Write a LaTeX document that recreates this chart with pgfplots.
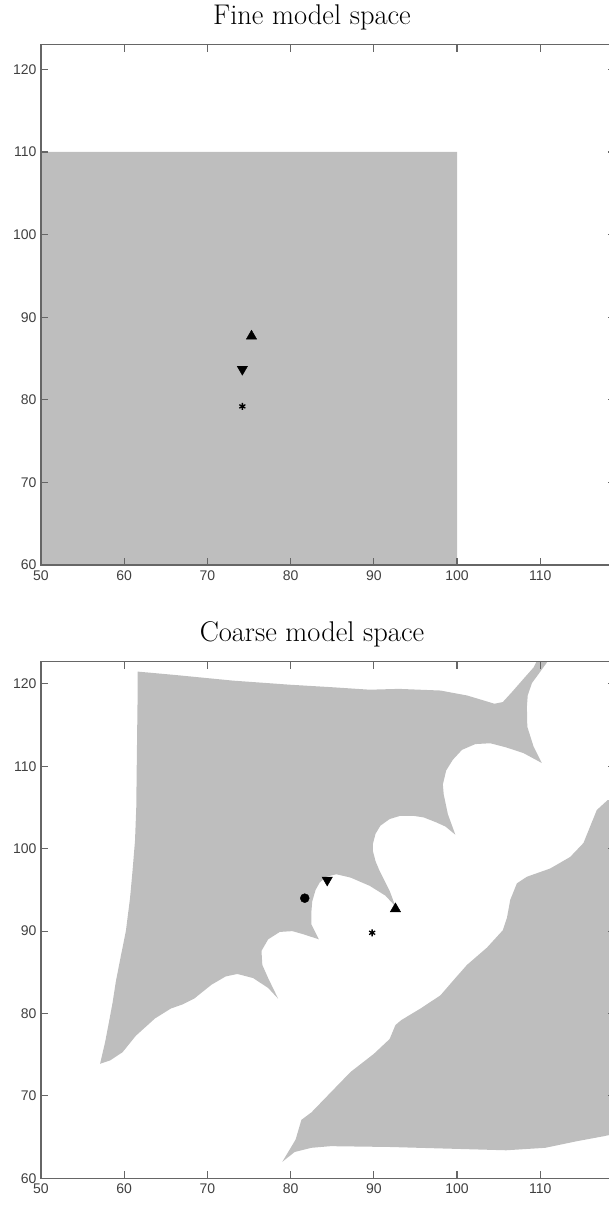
\documentclass[border=0pt]{standalone}
\usepackage{pgfplots}
\pgfplotsset{compat=1.18}
\usepackage{fontspec}
\newfontfamily\ticksans{Liberation Sans}
\definecolor{regiongray}{RGB}{190,190,190}
\pgfplotsset{mystyle/.style={
  scale only axis, width=574.1pt, xmin=50, xmax=119, ymin=60,
  anchor=south west,
  xtick={50,60,...,110}, ytick={60,70,...,120},
  tick align=inside, major tick length=7pt,
  axis line style={black!60, line width=1.1pt},
  tick style={black!60, line width=1.1pt},
  tick label style={font=\ticksans\fontsize{14}{14}\selectfont, text=black!75},
  /pgf/number format/assume math mode=true,
  xticklabel style={yshift=-2pt},
  yticklabel style={xshift=-1pt},
  title style={font=\fontsize{28.5}{30}\selectfont, at={(0.472,1)}, anchor=base, yshift=14.3pt},
  axis on top,
}}
\begin{document}
\begin{tikzpicture}
\begin{axis}[mystyle, at={(41pt,640pt)}, height=520.4pt, ymax=123, title={Fine model space}]
\addplot[fill=regiongray, draw=none] coordinates {(50,60)(100,60)(100,110)(50,110)(50,60)};
\addplot[only marks, mark=triangle*, mark size=6pt, black] coordinates {(75.3,87.7)};
\addplot[only marks, mark=triangle*, mark size=6pt, black, every mark/.append style={rotate=180}] coordinates {(74.2,83.7)};
\addplot[only marks, mark=asterisk, mark size=3.5pt, black, line width=1.3pt] coordinates {(74.2,79.2)};
\end{axis}
\begin{axis}[mystyle, at={(41pt,26.7pt)}, height=516.6pt, ymax=122.7, title={Coarse model space}]
\addplot[fill=regiongray, draw=none] coordinates {
(61.6,121.5)(66,121.1)(73.1,120.4)(80,119.9)(85,119.6)(89.5,119.3)(93,119.4)(98.0,119.2)(101.2,118.6)(104.5,117.6)
(105.5,117.8)(106.5,118.9)(107.8,120.4)(109.2,122.0)(109.8,123.2)(111.2,123.2)(110.8,122.6)(109.8,121.2)(109.0,120.1)
(108.5,118.6)(108.4,117.2)(108.45,114.8)(109.2,112.4)(110.2,110.4)
(108,111.6)(105.9,112.3)(104,112.8)(102.2,112.7)(100.6,112.0)(99.5,110.8)(98.7,109.5)(98.3,107.8)(98.4,106.6)(98.9,104.2)(99.8,101.7)
(98.6,102.7)(97.5,103.2)(96,103.8)(94.7,104.0)(93.2,104.0)(91.9,103.6)(90.8,102.8)(90.2,101.8)(89.9,100.6)(89.9,99.7)(90.2,98.5)(90.7,97.3)(91.9,94.9)(92.6,93.0)
(91.4,94.3)(89.5,95.5)(87.2,96.5)(85.5,96.9)(84.3,96.6)(83.5,95.9)(83.0,95.0)(82.6,93.6)(82.5,92.4)(82.5,90.8)(83.4,89.0)
(81.6,89.6)(80.2,90.0)(78.7,89.9)(77.3,89.0)(76.5,87.6)(76.6,85.9)(77.3,84.3)(78.5,81.8)
(77.3,83.1)(75.5,84.3)(73.6,84.8)(72.2,84.5)(70.5,83.5)(68.4,81.8)(67.0,81.1)(65.6,80.6)(63.7,79.4)(61.4,77.3)(59.8,75.3)(58.3,74.3)(57.1,73.9)
(57.7,76.5)(58.1,78.6)(58.6,81.3)(59.0,83.9)(59.6,87)(60.2,90)(60.7,94)(61.0,97.3)(61.3,101)(61.45,105)(61.5,109.5)(61.6,117.6)(61.6,121.5)};
\addplot[fill=regiongray, draw=none] coordinates {
(79.0,62.0)(80.5,63.2)(82.5,63.7)(84.8,63.9)(91.9,63.8)(98.9,63.6)(105.9,63.4)(110.6,63.7)(114.4,64.5)(117.6,65.1)
(119.5,65.5)(119.5,106)(118.1,105.9)(116.8,104.7)(116.0,102.7)(115.2,100.7)(113.6,99.0)(111.2,97.6)(108.4,96.6)(107.2,95.8)
(106.4,93.8)(106.0,91.6)(105.5,90.1)(103.6,88.0)(101.2,85.9)(99.8,84.3)(98.0,82.2)(95.6,80.6)(93.3,79.2)(92.6,78.6)
(91.9,76.9)(90.0,75.1)(87.2,72.9)(84.8,70.4)(82.5,68.0)(81.3,67.1)(80.6,64.7)(79.0,62.0)};
\addplot[only marks, mark=*, mark size=4.5pt, black] coordinates {(81.7,94.0)};
\addplot[only marks, mark=triangle*, mark size=6pt, black, every mark/.append style={rotate=180}] coordinates {(84.4,96.2)};
\addplot[only marks, mark=triangle*, mark size=6pt, black] coordinates {(92.6,92.7)};
\addplot[only marks, mark=asterisk, mark size=3.5pt, black, line width=1.3pt] coordinates {(89.8,89.8)};
\end{axis}
\pgfresetboundingbox
\useasboundingbox (0pt,0pt) rectangle (608pt,1205pt);
\end{tikzpicture}
\end{document}
